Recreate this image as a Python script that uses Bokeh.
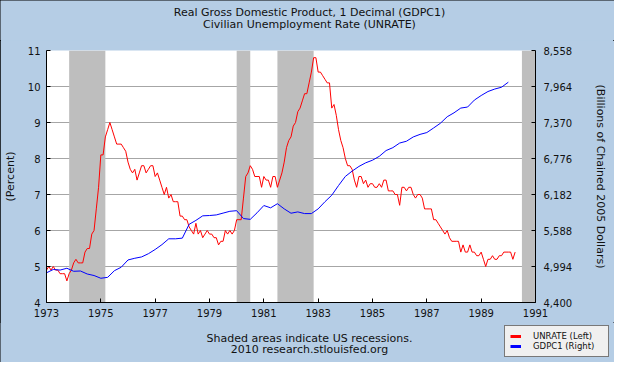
from bokeh.plotting import figure
from bokeh.layouts import column
from bokeh.models import (Range1d, LinearAxis, FixedTicker, NumeralTickFormatter,
                          BoxAnnotation, Label, Legend, LegendItem)
from bokeh.embed import file_html
from bokeh.resources import INLINE

# ---------------- data ----------------
UNRATE_START = 1973          # monthly from Jan 1973
unrate = [
    4.9, 5.0, 4.9, 5.0, 4.9, 4.9, 4.8, 4.8, 4.8, 4.6, 4.8, 4.9,   # 1973
    5.1, 5.2, 5.1, 5.1, 5.1, 5.4, 5.5, 5.5, 5.9, 6.0, 6.6, 7.2,   # 1974
    8.1, 8.1, 8.6, 8.8, 9.0, 8.8, 8.6, 8.4, 8.4, 8.4, 8.3, 8.2,   # 1975
    7.9, 7.7, 7.6, 7.7, 7.4, 7.6, 7.8, 7.8, 7.6, 7.7, 7.8, 7.8,   # 1976
    7.5, 7.6, 7.4, 7.2, 7.0, 7.2, 6.9, 7.0, 6.8, 6.8, 6.8, 6.4,   # 1977
    6.4, 6.3, 6.3, 6.1, 6.0, 5.9, 6.2, 5.9, 6.0, 5.8, 5.9, 6.0,   # 1978
    5.9, 5.9, 5.8, 5.8, 5.6, 5.7, 5.7, 6.0, 5.9, 6.0, 5.9, 6.0,   # 1979
    6.3, 6.3, 6.3, 6.9, 7.5, 7.6, 7.8, 7.7, 7.5, 7.5, 7.5, 7.2,   # 1980
    7.5, 7.4, 7.4, 7.2, 7.5, 7.5, 7.2, 7.4, 7.6, 7.9, 8.3, 8.5,   # 1981
    8.6, 8.9, 9.0, 9.3, 9.4, 9.6, 9.8, 9.8, 10.1, 10.4, 10.8, 10.8,  # 1982
    10.4, 10.4, 10.3, 10.2, 10.1, 10.1, 9.4, 9.5, 9.2, 8.8, 8.5, 8.3,  # 1983
    8.0, 7.8, 7.8, 7.7, 7.4, 7.2, 7.5, 7.5, 7.3, 7.4, 7.2, 7.3,   # 1984
    7.3, 7.2, 7.2, 7.3, 7.2, 7.4, 7.4, 7.1, 7.1, 7.1, 7.0, 7.0,   # 1985
    6.7, 7.2, 7.2, 7.1, 7.2, 7.2, 7.0, 6.9, 7.0, 7.0, 6.9, 6.6,   # 1986
    6.6, 6.6, 6.6, 6.3, 6.3, 6.2, 6.1, 6.0, 5.9, 6.0, 5.8, 5.7,   # 1987
    5.7, 5.7, 5.7, 5.4, 5.6, 5.4, 5.4, 5.6, 5.4, 5.4, 5.3, 5.3,   # 1988
    5.4, 5.2, 5.0, 5.2, 5.2, 5.3, 5.2, 5.2, 5.3, 5.3, 5.4, 5.4,   # 1989
    5.4, 5.4, 5.2, 5.4,                                           # 1990
]

GDP_START = 1973             # quarterly from 1973 Q1
gdpc1 = [
    4890, 4945, 4935, 4965,   # 1973
    4915, 4920, 4870, 4845,   # 1974
    4800, 4815, 4925, 4982,   # 1975
    5102, 5130, 5152, 5205,   # 1976
    5275, 5355, 5451, 5451,   # 1977
    5462, 5690, 5755, 5830,   # 1978
    5835, 5845, 5875, 5905,   # 1979
    5915, 5785, 5772, 5880,   # 1980
    6000, 5962, 6030, 5945,   # 1981
    5873, 5895, 5867, 5867,   # 1982
    5945, 6063, 6170, 6330,   # 1983
    6480, 6568, 6645, 6705,   # 1984
    6748, 6812, 6907, 6955,   # 1985
    7031, 7061, 7132, 7174,   # 1986
    7204, 7280, 7358, 7465,   # 1987
    7530, 7608, 7625, 7740,   # 1988
    7815, 7881, 7922, 7952,   # 1989
    8035,                     # 1990
]

rec_start = [1973 + 10/12, 1980 + 0/12, 1981 + 6/12, 1990 + 6/12]
rec_end   = [1975 + 2/12, 1980 + 6/12, 1982 + 10/12, 1991.0]

x_ticks = [1973, 1975, 1977, 1979, 1981, 1983, 1985, 1987, 1989, 1991]
left_ticks = [4, 5, 6, 7, 8, 9, 10, 11]
right_ticks = [4400, 4994, 5588, 6182, 6776, 7370, 7964, 8558]

title1 = "Real Gross Domestic Product, 1 Decimal (GDPC1)"
title2 = "Civilian Unemployment Rate (UNRATE)"
foot1 = "Shaded areas indicate US recessions."
foot2 = "2010 research.stlouisfed.org"
legend_labels = ["UNRATE (Left)", "GDPC1 (Right)"]

# ---------------- styling ----------------
BG = "#B5CDE5"
FONT = "DejaVu Sans"
FS = "10px"
FS_BIG = "11px"
TXT = "#111111"
W = 614


def blank(h):
    f = figure(width=W, height=h, x_range=Range1d(0, W), y_range=Range1d(0, h),
               output_backend="svg", toolbar_location=None,
               x_axis_location=None, y_axis_location=None, min_border=0,
               background_fill_color=BG, border_fill_color=BG,
               outline_line_color=None, frame_align=False)
    f.grid.visible = False
    f.title.visible = False
    return f


def add_text(f, txt, x, y):
    f.add_layout(Label(x=x, y=y, x_units="screen", y_units="screen", text=txt,
                       text_align="center", text_baseline="middle",
                       text_font=FONT, text_font_size=FS_BIG, text_color=TXT))


# header
head = blank(40)
add_text(head, title1, 309, 28)
add_text(head, title2, 309, 16)

# main chart
ux = [UNRATE_START + i / 12 for i in range(len(unrate))]
gx = [GDP_START + i / 4 for i in range(len(gdpc1))]

p = figure(width=W, height=282,
           x_range=Range1d(x_ticks[0], x_ticks[-1]),
           y_range=Range1d(left_ticks[0], left_ticks[-1]),
           output_backend="svg", toolbar_location=None,
           min_border_left=44, min_border_right=79,
           min_border_top=10, min_border_bottom=20,
           background_fill_color="white", border_fill_color=BG,
           outline_line_color=None)
p.title.visible = False
p.extra_y_ranges = {"gdp": Range1d(right_ticks[0], right_ticks[-1])}

p.xgrid.grid_line_color = None
p.ygrid.ticker = FixedTicker(ticks=left_ticks[1:-1])
p.ygrid.grid_line_color = "#A6A6A6"
p.ygrid.grid_line_width = 1

for s, e in zip(rec_start, rec_end):
    p.add_layout(BoxAnnotation(left=s, right=e, fill_color="#BEBEBE",
                               fill_alpha=1.0, line_color=None, level="underlay"))

p.line(ux, unrate, line_color="#FF0000", line_width=1)
p.line(gx, gdpc1, line_color="#0000FF", line_width=1, y_range_name="gdp")


def style_axis(ax):
    ax.axis_line_color = "black"
    ax.axis_line_width = 1
    ax.major_tick_in = 4
    ax.major_tick_out = 0
    ax.major_tick_line_color = "black"
    ax.minor_tick_line_color = None
    ax.major_label_text_font = FONT
    ax.major_label_text_font_size = FS
    ax.major_label_text_color = TXT
    ax.axis_label_text_font = FONT
    ax.axis_label_text_font_size = FS_BIG
    ax.axis_label_text_font_style = "normal"
    ax.axis_label_text_color = TXT


xa = p.xaxis[0]
xa.ticker = FixedTicker(ticks=x_ticks)
style_axis(xa)
xa.major_label_standoff = 6

ya = p.yaxis[0]
ya.ticker = FixedTicker(ticks=left_ticks)
style_axis(ya)
ya.major_label_standoff = 6
ya.axis_label = "(Percent)"
ya.axis_label_standoff = 8

ra = LinearAxis(y_range_name="gdp", ticker=FixedTicker(ticks=right_ticks),
                formatter=NumeralTickFormatter(format="0,0"))
style_axis(ra)
ra.major_label_standoff = 8
ra.axis_label = "(Billions of Chained 2005 Dollars)"
ra.axis_label_standoff = 19
p.add_layout(ra, "right")

# footer with notes and legend
foot = blank(40)
add_text(foot, foot1, 309, 24)
add_text(foot, foot2, 309, 13)
# one-point stand-ins (draw nothing) so the legend can show each series' swatch
lr = foot.line(ux[:1], unrate[:1], line_color="#FF0000", line_width=3)
lb = foot.line(gx[:1], gdpc1[:1], line_color="#0000FF", line_width=3)
legend = Legend(items=[LegendItem(label=legend_labels[0], renderers=[lr]),
                       LegendItem(label=legend_labels[1], renderers=[lb])],
                location="bottom_right", margin=5, padding=5, spacing=0,
                glyph_width=11, glyph_height=10, label_height=10,
                label_width=70, label_standoff=12,
                label_text_font=FONT, label_text_font_size="8.5px",
                label_text_color=TXT,
                background_fill_color="#F0F0F0", background_fill_alpha=1.0,
                border_line_color="black", border_line_width=1)
foot.add_layout(legend)

page = column(head, p, foot, spacing=0,
              styles={"outline": "1px solid #000", "outline-offset": "-1px",
                      "background-color": BG})

open("out.html", "w").write(file_html(page, INLINE))
